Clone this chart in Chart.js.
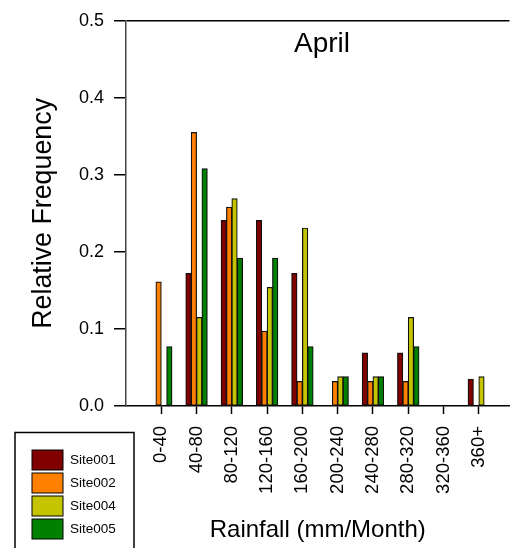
<!DOCTYPE html>
<html>
<head>
<meta charset="utf-8">
<script src="https://cdn.jsdelivr.net/npm/chart.js@4.4.0/dist/chart.umd.min.js"></script>
<style>
  body { margin: 0; background: #fff; }
  #box { width: 513px; height: 548px; }
</style>
</head>
<body>
<div id="box"><canvas id="myChart" width="513" height="548"></canvas></div>
<script>
const bins = ["0-40", "40-80", "80-120", "120-160", "160-200", "200-240", "240-280", "280-320", "320-360", "360+"];
const site001 = [0, 0.172, 0.241, 0.241, 0.172, 0, 0.069, 0.069, 0, 0.035];
const site002 = [0.161, 0.355, 0.258, 0.097, 0.032, 0.032, 0.032, 0.032, 0, 0];
const site004 = [0, 0.115, 0.269, 0.154, 0.231, 0.038, 0.038, 0.115, 0, 0.038];
const site005 = [0.077, 0.308, 0.192, 0.192, 0.077, 0.038, 0.038, 0.077, 0, 0];
const yTicks = [0, 0.1, 0.2, 0.3, 0.4, 0.5];

const FONT = "'Liberation Sans', Arial, sans-serif";

function toPoints(vals) {
  return vals.map(function (v, i) { return { x: i, y: v }; });
}

function makeSet(label, vals, color) {
  return {
    label: label,
    data: toPoints(vals),
    backgroundColor: color,
    borderColor: "#111",
    borderWidth: 1.2,
    borderSkipped: false,
    inflateAmount: 0.4,
    categoryPercentage: 0.61,
    barPercentage: 1,
  };
}

// title inside plot area + boxed legend in the lower left corner
const extras = {
  id: "extras",
  afterDraw: function (chart) {
    const c = chart.ctx;
    c.save();
    c.fillStyle = "#000";
    c.font = "28px " + FONT;
    c.textAlign = "center";
    c.textBaseline = "alphabetic";
    c.fillText("April", 322, 52);

    c.lineWidth = 1.5;
    c.strokeStyle = "#000";
    c.strokeRect(15, 432.5, 119, 130);
    c.font = "13.5px " + FONT;
    c.textAlign = "left";
    c.textBaseline = "middle";
    chart.data.datasets.forEach(function (ds, i) {
      const y = 450 + i * 23;
      c.fillStyle = ds.backgroundColor;
      c.fillRect(32, y, 31, 20);
      c.lineWidth = 1;
      c.strokeRect(32, y, 31, 20);
      c.fillStyle = "#000";
      c.fillText(ds.label, 70, y + 10.5);
    });
    c.restore();
  },
};

const ctx = document.getElementById("myChart").getContext("2d");
const myChart = new Chart(ctx, {
  type: "bar",
  data: {
    datasets: [
      makeSet("Site001", site001, "#800000"),
      makeSet("Site002", site002, "#FF8000"),
      makeSet("Site004", site004, "#C4C400"),
      makeSet("Site005", site005, "#008000"),
    ],
  },
  options: {
    responsive: false,
    animation: false,
    layout: { padding: { top: 16, right: 0, bottom: 0, left: 0 } },
    plugins: {
      legend: { display: false },
      tooltip: { enabled: false },
    },
    scales: {
      x: {
        type: "linear",
        offset: false,
        min: -1,
        max: 9.87,
        afterBuildTicks: function (s) {
          s.ticks = bins.map(function (b, i) { return { value: i }; });
        },
        afterFit: function (s) { s.height = 142; },
        ticks: {
          autoSkip: false,
          minRotation: 90,
          maxRotation: 90,
          padding: 12,
          color: "#000",
          font: { family: FONT, size: 18.5 },
          callback: function (v) { return bins[v]; },
        },
        grid: { offset: false, drawOnChartArea: false, drawTicks: true, tickLength: 8, tickColor: "#000", tickWidth: 1.5 },
        border: { color: "#000", width: 1.5 },
        title: {
          display: true,
          text: "Rainfall (mm/Month)",
          color: "#000",
          font: { family: FONT, size: 24, lineHeight: 1.2 },
          padding: { top: 0, bottom: 3 },
        },
      },
      y: {
        min: 0,
        max: 0.5,
        afterBuildTicks: function (s) {
          s.ticks = yTicks.map(function (v) { return { value: v }; });
        },
        afterFit: function (s) { s.width = 126; },
        ticks: {
          padding: 10,
          color: "#000",
          font: { family: FONT, size: 18 },
          callback: function (v) { return v.toFixed(1); },
        },
        grid: {
          drawTicks: true,
          tickLength: 12,
          tickColor: "#000",
          tickWidth: 1.5,
          lineWidth: 1.5,
          color: function (c) { return c.tick && c.tick.value === 0.5 ? "#000" : "rgba(0,0,0,0)"; },
        },
        border: { color: "#444", width: 1.5 },
        title: {
          display: true,
          text: "Relative Frequency",
          color: "#000",
          font: { family: FONT, size: 26.8, lineHeight: 1.2 },
          padding: { top: 28, bottom: 0 },
        },
      },
    },
  },
  plugins: [extras],
});
</script>
</body>
</html>
